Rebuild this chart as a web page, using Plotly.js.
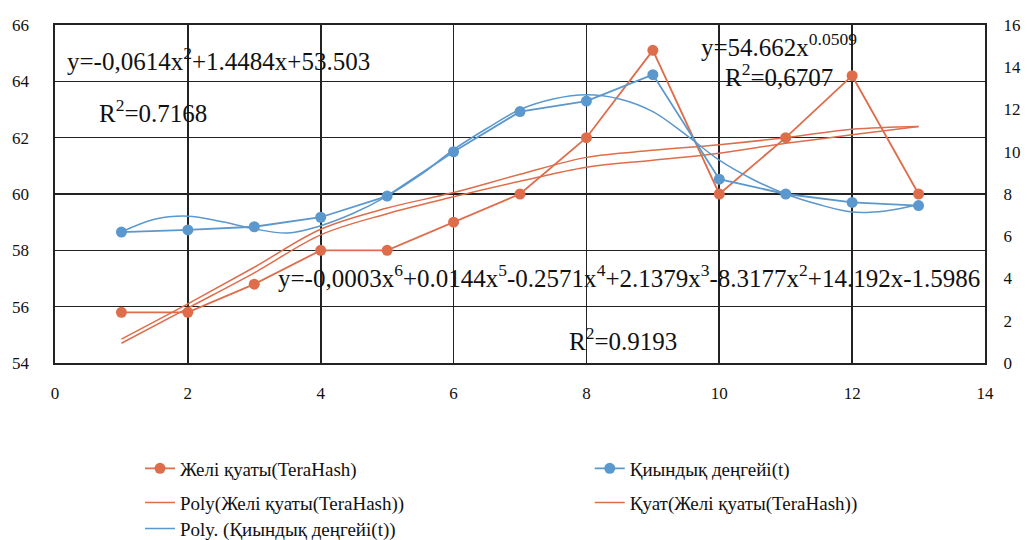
<!DOCTYPE html>
<html>
<head>
<meta charset="utf-8">
<script src="https://cdn.plot.ly/plotly-3.0.1.min.js"></script>
<style>html,body{margin:0;padding:0;background:#fff;}#chart{width:1027px;height:540px;}</style>
</head>
<body>
<div id="chart"></div>
<script>
// ---- data ----
const xPoints = [1, 2, 3, 4, 5, 6, 7, 8, 9, 10, 11, 12, 13];
const hashPower = [55.8, 55.8, 56.8, 58.0, 58.0, 59.0, 60.0, 62.0, 65.1, 60.0, 62.0, 64.2, 60.0];
const difficulty = [6.2, 6.3, 6.45, 6.9, 7.9, 10.0, 11.9, 12.4, 13.65, 8.7, 8.0, 7.6, 7.45];

// trend lines
const hashPolyTrend = [54.85, 56.1, 57.4, 58.75, 59.5, 60.05, 60.7, 61.3, 61.55, 61.75, 62.0, 62.3, 62.4];
const hashPowerTrend = [54.7, 55.95, 57.2, 58.55, 59.3, 59.9, 60.45, 60.95, 61.2, 61.45, 61.8, 62.1, 62.4];
const trendHalfX = [1, 1.5, 2, 2.5, 3, 3.5, 4, 4.5, 5, 5.5, 6, 6.5, 7, 7.5, 8, 8.5, 9, 9.5, 10, 10.5, 11, 11.5, 12, 12.5, 13];
const diffPolyTrend = [6.2, 6.8, 6.95, 6.7, 6.35, 6.15, 6.5, 7.1, 7.9, 8.9, 10.1, 11.1, 12.0, 12.5, 12.7, 12.5, 11.9, 10.8, 9.6, 8.7, 8.0, 7.5, 7.15, 7.2, 7.5];

const names = {
  hash: 'Желі қуаты(TeraHash)',
  diff: 'Қиындық деңгейі(t)',
  hashPoly: 'Poly(Желі қуаты(TeraHash))',
  hashPow: 'Қуат(Желі қуаты(TeraHash))',
  diffPoly: 'Poly. (Қиындық деңгейі(t))'
};

const leftTicks = [54, 56, 58, 60, 62, 64, 66];
const rightTicks = [0, 2, 4, 6, 8, 10, 12, 14, 16];
const xTicks = [0, 2, 4, 6, 8, 10, 12, 14];

const orange = '#DE6D4B';
const blue = '#5B98CD';
const serif = 'Liberation Serif, Times New Roman, serif';

const traces = [
  {x: xPoints, y: hashPower, name: names.hash, mode: 'lines+markers', yaxis: 'y', legend: 'legend',
   line: {color: orange, width: 1.8}, marker: {color: orange, size: 11}},
  {x: xPoints, y: difficulty, name: names.diff, mode: 'lines+markers', yaxis: 'y2', legend: 'legend2',
   line: {color: blue, width: 1.8}, marker: {color: blue, size: 11}},
  {x: xPoints, y: hashPolyTrend, name: names.hashPoly, mode: 'lines', yaxis: 'y', legend: 'legend3',
   line: {color: orange, width: 1.5, shape: 'spline'}},
  {x: xPoints, y: hashPowerTrend, name: names.hashPow, mode: 'lines', yaxis: 'y', legend: 'legend4',
   line: {color: orange, width: 1.5, shape: 'spline'}},
  {x: trendHalfX, y: diffPolyTrend, name: names.diffPoly, mode: 'lines', yaxis: 'y2', legend: 'legend5',
   line: {color: blue, width: 1.5, shape: 'spline'}}
];

const annFont = {family: serif, size: 25, color: '#111'};
const legendBase = {
  orientation: 'v', xanchor: 'left', yanchor: 'middle',
  font: {family: serif, size: 19, color: '#111'}, bgcolor: 'rgba(0,0,0,0)'
};
const colX = [0.0914, 0.575];
const rowY = [-0.312, -0.413, -0.49];

const layout = {
  width: 1027, height: 540,
  margin: {l: 55, r: 42, t: 25, b: 177, autoexpand: false},
  paper_bgcolor: '#fff', plot_bgcolor: '#fff',
  font: {family: serif, size: 14, color: '#111'},
  showlegend: true,
  xaxis: {range: [0, 14], tickvals: xTicks, ticktext: xTicks.map(String),
    showgrid: true, gridcolor: '#222', gridwidth: 1.6, zeroline: false,
    showline: true, linecolor: '#222', linewidth: 1.6, mirror: true,
    ticks: 'outside', ticklen: 14, tickcolor: 'rgba(0,0,0,0)',
    tickfont: {family: serif, size: 17, color: '#111'}},
  yaxis: {range: [54, 66], tickvals: leftTicks, ticktext: leftTicks.map(String),
    showgrid: true, gridcolor: '#222', gridwidth: 1.6, zeroline: false,
    showline: true, linecolor: '#222', linewidth: 1.6, mirror: true,
    ticks: 'outside', ticklen: 21, tickcolor: 'rgba(0,0,0,0)',
    tickfont: {family: serif, size: 17, color: '#111'}},
  yaxis2: {range: [0, 16], tickvals: rightTicks, ticktext: rightTicks.map(String),
    overlaying: 'y', side: 'right', showgrid: false, zeroline: false,
    ticks: 'outside', ticklen: 14, tickcolor: 'rgba(0,0,0,0)',
    tickfont: {family: serif, size: 17, color: '#111'}},
  legend: Object.assign({}, legendBase, {x: colX[0], y: rowY[0]}),
  legend2: Object.assign({}, legendBase, {x: colX[1], y: rowY[0]}),
  legend3: Object.assign({}, legendBase, {x: colX[0], y: rowY[1]}),
  legend4: Object.assign({}, legendBase, {x: colX[1], y: rowY[1]}),
  legend5: Object.assign({}, legendBase, {x: colX[0], y: rowY[2]}),
  annotations: [
    {xref: 'x', yref: 'y', x: 0.15, y: 64.8, xanchor: 'left', yanchor: 'middle', showarrow: false,
     text: 'y=-0,0614x<sup>2</sup>+1.4484x+53.503', font: annFont},
    {xref: 'x', yref: 'y', x: 0.63, y: 62.95, xanchor: 'left', yanchor: 'middle', showarrow: false,
     text: 'R<sup>2</sup>=0.7168', font: annFont},
    {xref: 'x', yref: 'y', x: 9.7, y: 65.3, xanchor: 'left', yanchor: 'middle', showarrow: false,
     text: 'y=54.662x<sup>0.0509</sup>', font: annFont},
    {xref: 'x', yref: 'y', x: 10.05, y: 64.22, xanchor: 'left', yanchor: 'middle', showarrow: false,
     text: 'R<sup>2</sup>=0,6707', font: annFont},
    {xref: 'x', yref: 'y', x: 3.33, y: 57.1, xanchor: 'left', yanchor: 'middle', showarrow: false,
     text: 'y=-0,0003x<sup>6</sup>+0.0144x<sup>5</sup>-0.2571x<sup>4</sup>+2.1379x<sup>3</sup>-8.3177x<sup>2</sup>+14.192x-1.5986', font: annFont},
    {xref: 'x', yref: 'y', x: 7.7, y: 54.84, xanchor: 'left', yanchor: 'middle', showarrow: false,
     text: 'R<sup>2</sup>=0.9193', font: annFont}
  ]
};

Plotly.newPlot('chart', traces, layout, {displayModeBar: false, staticPlot: true});
</script>
</body>
</html>
